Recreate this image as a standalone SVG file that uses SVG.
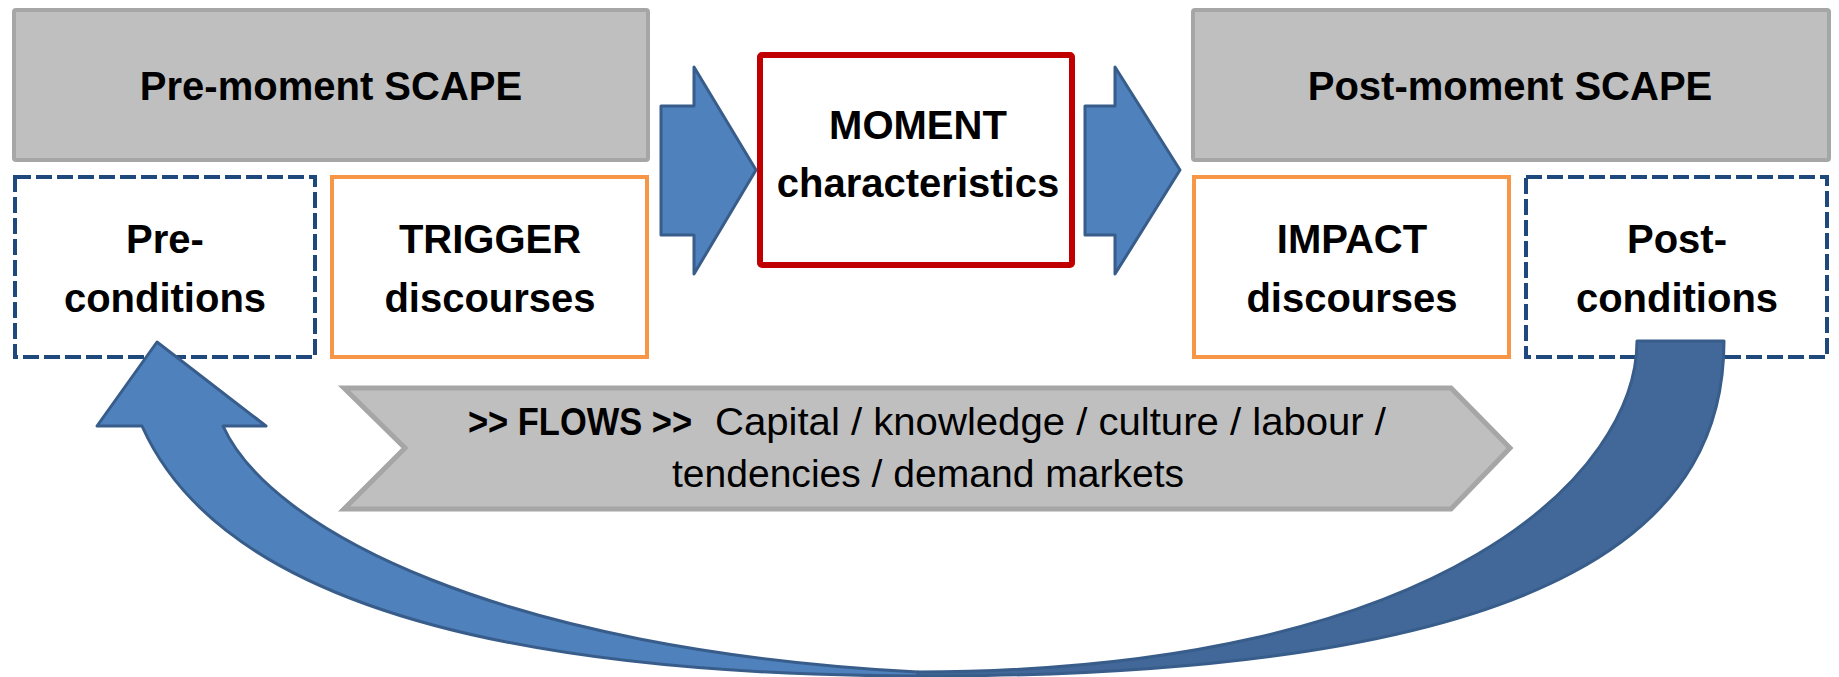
<svg xmlns="http://www.w3.org/2000/svg" width="1839" height="677" viewBox="0 0 1839 677">
<style>
  .scape { fill: #bfbfbf; stroke: #a6a6a6; stroke-width: 4; }
  .cond { fill: #ffffff; stroke: #1f497d; stroke-width: 4; stroke-dasharray: 16 5; }
  .disc { fill: #ffffff; stroke: #f79646; stroke-width: 4; }
  .moment { fill: #ffffff; stroke: #c00000; stroke-width: 6; }
  .banner { fill: #bfbfbf; stroke: #a6a6a6; stroke-width: 5; stroke-linejoin: miter; }
  .arrow { fill: #4f81bd; stroke: #385d8a; stroke-width: 3; stroke-linejoin: round; }
  .arrowBack { fill: #416898; stroke: #385d8a; stroke-width: 3; stroke-linejoin: round; }
  .t { font-family: "Liberation Sans", Arial, sans-serif; font-weight: bold; font-size: 40px; fill: #000000; text-anchor: middle; }
  .f { font-family: "Liberation Sans", Arial, sans-serif; font-size: 38px; fill: #000000; }
  .fb { font-family: "Liberation Sans", Arial, sans-serif; font-size: 38px; font-weight: bold; fill: #000000; }
</style>

<g id="pre-moment-scape">
  <rect class="scape" x="14" y="10" width="634" height="150" rx="2"/>
  <text class="t" x="331" y="100">Pre-moment SCAPE</text>
</g>

<g id="post-moment-scape">
  <rect class="scape" x="1193" y="10" width="636" height="150" rx="2"/>
  <text class="t" x="1510" y="100">Post-moment SCAPE</text>
</g>

<g id="pre-conditions">
  <rect class="cond" x="15" y="177" width="300" height="180"/>
  <text class="t" x="165" y="253">Pre-</text>
  <text class="t" x="165" y="312">conditions</text>
</g>

<g id="trigger-discourses">
  <rect class="disc" x="332" y="177" width="315" height="180"/>
  <text class="t" x="490" y="253">TRIGGER</text>
  <text class="t" x="490" y="312">discourses</text>
</g>

<g id="moment-characteristics">
  <rect class="moment" x="760" y="55" width="312" height="210" rx="2"/>
  <text class="t" x="918" y="139">MOMENT</text>
  <text class="t" x="918" y="197">characteristics</text>
</g>

<g id="impact-discourses">
  <rect class="disc" x="1194" y="177" width="315" height="180"/>
  <text class="t" x="1352" y="253">IMPACT</text>
  <text class="t" x="1352" y="312">discourses</text>
</g>

<g id="post-conditions">
  <rect class="cond" x="1526" y="177" width="301" height="180"/>
  <text class="t" x="1677" y="253">Post-</text>
  <text class="t" x="1677" y="312">conditions</text>
</g>

<g id="flows-banner">
  <polygon class="banner" points="344,388 1451,388 1510,448 1451,509 344,509 405,448"/>
  <text class="fb" x="468" y="435" textLength="224" lengthAdjust="spacingAndGlyphs">&gt;&gt; FLOWS &gt;&gt;</text>
  <text class="f" x="715" y="435" textLength="671" lengthAdjust="spacingAndGlyphs">Capital / knowledge / culture / labour /</text>
  <text class="f" x="672" y="487" textLength="512" lengthAdjust="spacingAndGlyphs">tendencies / demand markets</text>
</g>

<g id="connectors">
  <polygon class="arrow" points="661,106 694,106 694,67 756,170 694,274 694,235 661,235"/>
  <polygon class="arrow" points="1085,106 1115,106 1115,67 1180,170 1115,274 1115,235 1085,235"/>
  <path class="arrowBack" d="M 1637,341 L 1724,341 C 1724,510 1590,677 918,676 L 918,672 C 1450,671 1637,470 1637,341 Z"/>
  <path class="arrow" d="M 223,426 C 270,530 500,650 918,672 L 918,676 C 470,675 215,590 142,426 L 97,426 L 157,342 L 266,426 Z"/>
</g>
</svg>
